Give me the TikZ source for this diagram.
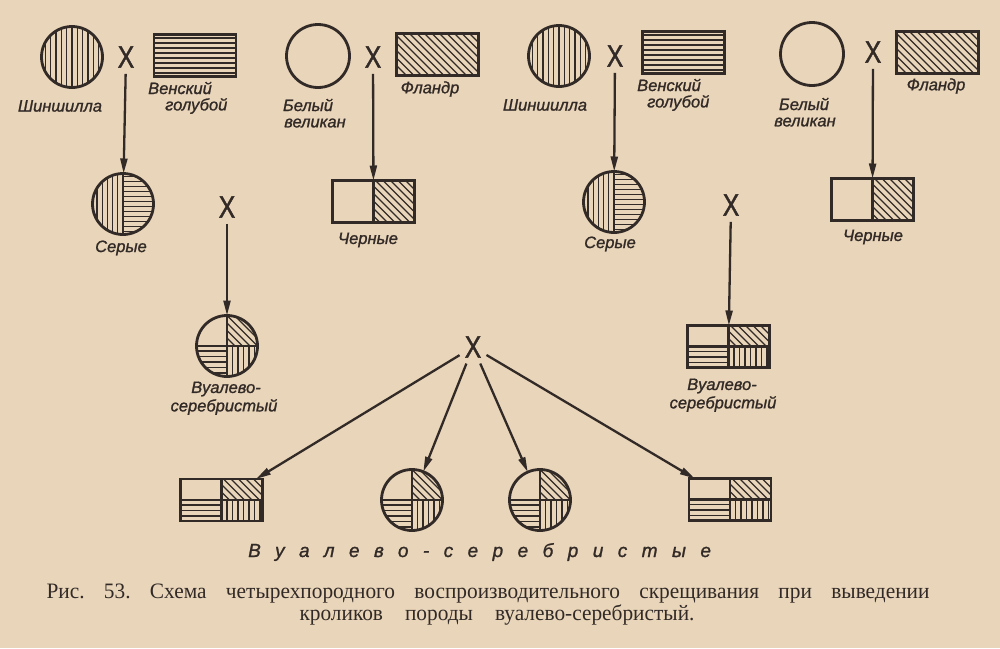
\documentclass[tikz,border=0pt]{standalone}
\usepackage{fontspec}
\setmainfont{Liberation Serif}
\newfontfamily\lblfont{Liberation Sans}[FakeBold=1.2]
\newfontfamily\capfont{Liberation Serif}[FakeStretch=0.97]
\newfontfamily\xfont{Liberation Sans}[FakeBold=1.5]
\usetikzlibrary{arrows.meta}
\definecolor{paper}{RGB}{233,213,186}
\definecolor{ink}{RGB}{50,42,38}
\newcommand\HV[3]{\foreach \u in {#1}{\draw[hline] (\u,#2) -- (\u,#3);}}
\newcommand\HH[3]{\foreach \u in {#1}{\draw[hline] (#2,\u) -- (#3,\u);}}
\newcommand\HD[3]{\foreach \u in {#1}{\draw[hline] ({\u+(#2)},#2) -- ({\u+(#3)},#3);}}
\tikzset{
  hline/.style={ink, line width=1.25pt},
  divl/.style={ink, line width=2.4pt},
  pp/.style={path picture={\begin{scope}[shift={(path picture bounding box.center)},x=1pt,y=-1pt]#1\end{scope}}},
  base/.style={draw=ink, line width=2.8pt, inner sep=0pt, outer sep=0pt},
  circ/.style={base, circle, minimum size=61pt},
  box/.style={base, rectangle, minimum width=82pt, minimum height=42pt},
  chin/.style={circ, pp={\HV{-26.5,-21.2,...,28}{-40}{40}}},
  vgol/.style={box, pp={\HH{-17.5,-12.5,...,18}{-50}{50}}},
  fland/.style={box, pp={\HD{-112,-104.5,...,112}{-30}{30}}},
  grey/.style={circ, pp={\HV{-26,-20.8,...,1}{-40}{40}\HH{-27.5,-22.5,...,30}{0}{40}}},
  blk/.style={box, pp={\begin{scope}\clip (0,-30) rectangle (50,30);\HD{-112,-104.5,...,112}{-30}{30}\end{scope}\draw[divl] (0,-30)--(0,30);}},
  vsq/.style={pp={\begin{scope}\clip (0,-50) rectangle (50,0);\HD{-112,-104.5,...,112}{-50}{0}\end{scope}
      \HH{5,10.5,...,40}{-50}{0}\HV{5.5,11,...,50}{0}{50}
      \draw[divl] (-50,0)--(50,0) (0,-50)--(0,50);}},
  vscirc/.style={circ, vsq},
  vsbox/.style={box, vsq},
  xmark/.style={font=\xfont\fontsize{31}{31}\selectfont, text=ink, xscale=0.8, inner sep=2pt},
  lab/.style={font=\lblfont\itshape\fontsize{16.5}{18}\selectfont, text=ink, inner sep=0pt},
  arr/.style={ink, line width=2.3pt, -{Triangle[length=15pt,width=7pt]}, shorten <=4pt},
  captxt/.style={font=\capfont\fontsize{22}{24}\selectfont\frenchspacing, text=ink, inner sep=0pt, anchor=base}
}
\begin{document}
\begin{tikzpicture}[x=1pt,y=-1pt]
\useasboundingbox (0,0) rectangle (1000,648);
\fill[paper] (0,0) rectangle (1000,648);
% group 1
\node[chin] (ch1) at (72,57) {};
\node[xmark] (x1) at (126,57) {X};
\node[vgol] (vg1) at (195,55.5) {};
\node[lab] (l1) at (60,106) {Шиншилла};
\node[lab, anchor=west] (l2) at (148,88) {Венский};
\node[lab, anchor=west] (l3) at (165,106) {голубой};
\node[grey] (gr1) at (123,204) {};
\node[lab] (l4) at (121,248) {Серые};
\draw[arr] (x1) -- (gr1);
% group 2
\node[circ, minimum size=63pt] (bw1) at (318,56) {};
\node[xmark] (x2) at (373,57) {X};
\node[fland] (fl1) at (437.5,54.5) {};
\node[lab] (l5) at (308,105) {Белый};
\node[lab] (l6) at (315,123) {великан};
\node[lab] (l7) at (430,89) {Фландр};
\node[blk] (bl1) at (373.5,201.5) {};
\node[lab] (l8) at (368,240) {Черные};
\draw[arr] (x2) -- (bl1);
% cross 1
\node[xmark] (x5) at (227,207) {X};
\node[vscirc] (vs1) at (227,346) {};
\node[lab] (l9) at (226,389) {Вуалево-};
\node[lab] (l10) at (224,407) {серебристый};
\draw[arr] (x5) -- (vs1);
% group 3
\node[chin] (ch2) at (559,56) {};
\node[xmark] (x3) at (615,56) {X};
\node[vgol] (vg2) at (683.5,52.5) {};
\node[lab] (l11) at (545,105) {Шиншилла};
\node[lab, anchor=west] (l12) at (637,85) {Венский};
\node[lab, anchor=west] (l13) at (647,103) {голубой};
\node[grey] (gr2) at (614,202) {};
\node[lab] (l14) at (610,244) {Серые};
\draw[arr] (x3) -- (gr2);
% group 4
\node[circ, minimum size=63pt] (bw2) at (812,54) {};
\node[xmark] (x4) at (873,52) {X};
\node[fland] (fl2) at (937.5,52.5) {};
\node[lab] (l15) at (804,104) {Белый};
\node[lab] (l16) at (805,122) {великан};
\node[lab] (l17) at (936,86) {Фландр};
\node[blk] (bl2) at (872.5,199.5) {};
\node[lab] (l18) at (873,237) {Черные};
\draw[arr] (x4) -- (bl2);
% cross 2
\node[xmark] (x6) at (731,205) {X};
\node[vsbox] (vs2) at (728.5,346.5) {};
\node[lab] (l19) at (722,386) {Вуалево-};
\node[lab] (l20) at (723,404) {серебристый};
\draw[arr] (x6) -- (vs2);
% final cross
\node[xmark] (x7) at (473,347) {X};
\node[vsbox] (o1) at (221.5,500) {};
\node[vscirc] (o2) at (412,500) {};
\node[vscirc] (o3) at (540,500) {};
\node[vsbox] (o4) at (730,499.5) {};
\draw[arr] (x7) -- (o1);
\draw[arr] (x7) -- (o2);
\draw[arr] (x7) -- (o3);
\draw[arr] (x7) -- (o4);
\node[lab, anchor=west, font=\lblfont\itshape\fontsize{19}{21}\selectfont] (l21) at (248,552) {\addfontfeature{LetterSpace=76}Вуалево-серебристые};
% caption
\node[captxt] (c1) at (488,598) {\makebox[883pt][s]{Рис. 53. Схема четырехпородного воспроизводительного скрещивания при выведении}};
\node[captxt] (c2) at (497,620) {\makebox[395pt][s]{кроликов породы вуалево-серебристый.}};
\end{tikzpicture}
\end{document}
